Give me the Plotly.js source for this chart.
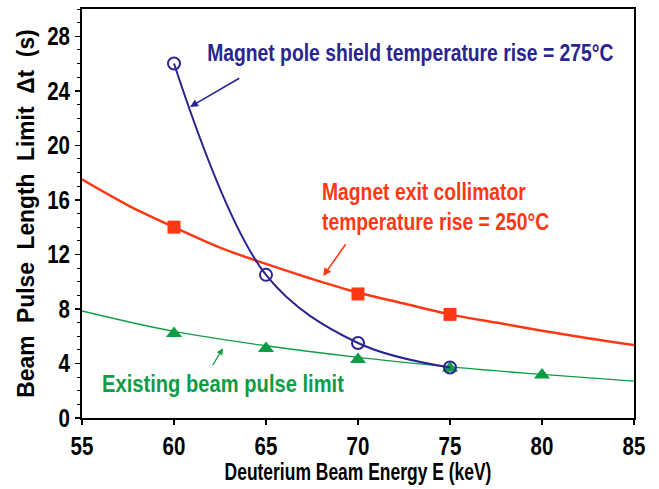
<!DOCTYPE html>
<html>
<head>
<meta charset="utf-8">
<script src="https://cdn.plot.ly/plotly-3.0.1.min.js"></script>
<style>
html,body{margin:0;padding:0;background:#fff;}
#chart{width:659px;height:489px;}
</style>
</head>
<body>
<div id="chart"></div>
<script>
// Magnet pole shield temperature rise = 275°C (blue, open circles)
const poleX = [60, 65, 70, 75];
const poleY = [26.0, 10.5, 5.5, 3.7];

// Magnet exit collimator temperature rise = 250°C (red curve + squares)
const collLineX = [55, 57.5, 60, 62.5, 65, 67.5, 70, 72.5, 75, 77.5, 80, 82.5, 85];
const collLineY = [17.5, 15.6, 14.0, 12.5, 11.3, 10.2, 9.2, 8.4, 7.6, 7.0, 6.4, 5.85, 5.35];
const collPtX = [60, 70, 75];
const collPtY = [14.0, 9.1, 7.6];

// Existing beam pulse limit (green curve + triangles)
const existLineX = [55, 60, 65, 70, 75, 80, 85];
const existLineY = [7.85, 6.35, 5.3, 4.45, 3.75, 3.2, 2.7];
const existPtX = [60, 65, 70, 75, 80];
const existPtY = [6.2, 5.1, 4.3, 3.65, 3.15];

const xTicks = [55, 60, 65, 70, 75, 80, 85];
const yTicks = [0, 4, 8, 12, 16, 20, 24, 28];

const BLUE = '#29248f';
const RED = '#ff3814';
const GREEN = '#0e9c45';
const FONT = '"Liberation Sans", Arial, "DejaVu Sans", sans-serif';

function f(size, color) { return {family: FONT, size: size, weight: 700, color: color}; }

const traces = [
  {x: collLineX, y: collLineY, mode: 'lines', line: {color: RED, width: 2.5, shape: 'spline'}},
  {x: collPtX, y: collPtY, mode: 'markers', marker: {symbol: 'square', color: RED, size: 13}},
  {x: existLineX, y: existLineY, mode: 'lines', line: {color: GREEN, width: 1.3, shape: 'spline'}},
  {x: existPtX, y: existPtY, mode: 'markers', marker: {symbol: 'triangle-up', color: GREEN, size: 14}},
  {x: poleX, y: poleY, mode: 'lines+markers', line: {color: BLUE, width: 2, shape: 'spline', smoothing: 1.0},
   marker: {symbol: 'circle-open', color: BLUE, size: 12, line: {width: 2, color: BLUE}}}
];

const layout = {
  width: 659, height: 489,
  margin: {l: 82, r: 25, t: 9, b: 71},
  showlegend: false,
  paper_bgcolor: '#fff', plot_bgcolor: '#fff',
  font: f(22, '#000'),
  xaxis: {
    range: [55, 85], tickvals: xTicks, ticktext: xTicks.map(String),
    showgrid: false, zeroline: false,
    showline: true, linecolor: '#000', linewidth: 2, mirror: true,
    ticks: 'outside', ticklen: 5, tickwidth: 1.5, tickcolor: '#000',
    tickfont: f(25, '#000'),
    title: {text: 'Deuterium Beam Energy E (keV)', font: f(23, '#000')}
  },
  yaxis: {
    range: [0, 30], tickvals: yTicks, ticktext: yTicks.map(String),
    showgrid: false, zeroline: false,
    showline: true, linecolor: '#000', linewidth: 2, mirror: true,
    ticks: 'outside', ticklen: 5, tickwidth: 1.5, tickcolor: '#000',
    minor: {dtick: 1, ticks: 'outside', ticklen: 3, tickwidth: 1, tickcolor: '#000'},
    tickfont: f(25, '#000'),
    title: {text: 'Beam\u00a0\u00a0Pulse\u00a0\u00a0Length\u00a0\u00a0Limit\u00a0\u00a0\u0394t\u00a0\u00a0(s)', font: f(24, '#000')}
  },
  annotations: [
    {x: 61.68, y: 26.76, xref: 'x', yref: 'y', xanchor: 'left', yanchor: 'middle', showarrow: false,
     text: 'Magnet pole shield temperature rise = 275\u00b0C', font: f(23, BLUE)},
    {x: 60.87, y: 22.82, ax: 63.63, ay: 24.98, xref: 'x', yref: 'y', axref: 'x', ayref: 'y', text: '', showarrow: true,
     arrowhead: 2, arrowsize: 1, arrowwidth: 1.6, arrowcolor: BLUE},
    {x: 67.93, y: 15.47, xref: 'x', yref: 'y', xanchor: 'left', yanchor: 'middle', align: 'left', showarrow: false,
     text: 'Magnet exit collimator<br>temperature rise = 250\u00b0C', font: f(23, RED)},
    {x: 68.11, y: 10.41, ax: 69.39, ay: 12.85, xref: 'x', yref: 'y', axref: 'x', ayref: 'y', text: '', showarrow: true,
     arrowhead: 2, arrowsize: 1, arrowwidth: 1.6, arrowcolor: RED},
    {x: 56.0, y: 2.55, xref: 'x', yref: 'y', xanchor: 'left', yanchor: 'middle', showarrow: false,
     text: 'Existing beam pulse limit', font: f(24, GREEN)},
    {x: 62.66, y: 5.11, ax: 62.05, ay: 3.76, xref: 'x', yref: 'y', axref: 'x', ayref: 'y', text: '', showarrow: true,
     arrowhead: 2, arrowsize: 1, arrowwidth: 1.3, arrowcolor: GREEN}
  ]
};

// Horizontally condense rendered text to mimic a narrow bold face; optional screen shift
function condense(el, s, anchor, dx, dy) {
  const bb = el.getBBox();
  const cx = anchor === 'left' ? bb.x : anchor === 'right' ? bb.x + bb.width : bb.x + bb.width / 2;
  const t = el.getAttribute('transform') || '';
  const pre = (dx || dy) ? 'translate(' + (dx || 0) + ',' + (dy || 0) + ') ' : '';
  el.setAttribute('transform', (pre + t + ' translate(' + cx + ',0) scale(' + s + ',1) translate(' + (-cx) + ',0)').trim());
}

Plotly.newPlot('chart', traces, layout, {displayModeBar: false, staticPlot: true}).then(function (gd) {
  gd.querySelectorAll('text.annotation-text').forEach(el => condense(el, 0.84, 'left'));
  gd.querySelectorAll('text.xtitle').forEach(el => condense(el, 0.76, 'center', 0, -4));
  gd.querySelectorAll('text.ytitle').forEach(el => condense(el, 0.95, 'center', 11, 0));
  gd.querySelectorAll('g.xtick text').forEach(el => condense(el, 0.82, 'center'));
  gd.querySelectorAll('g.ytick text').forEach(el => condense(el, 0.82, 'right'));
});
</script>
</body>
</html>
